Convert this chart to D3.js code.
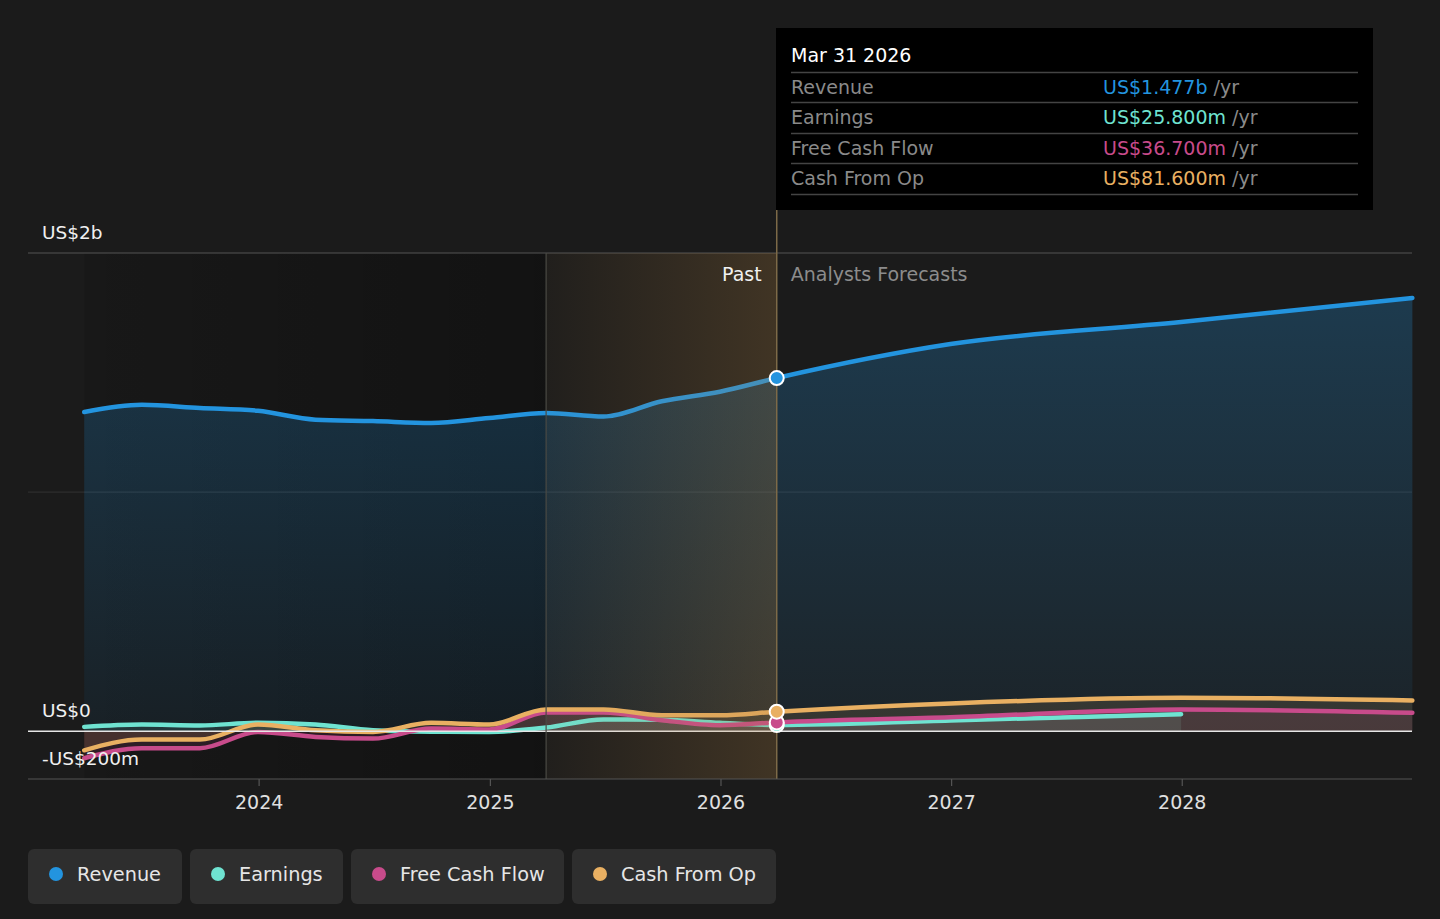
<!DOCTYPE html>
<html>
<head>
<meta charset="utf-8">
<script src="https://cdn.jsdelivr.net/npm/d3@7"></script>
<style>
html,body{margin:0;padding:0;background:#1b1b1b;}
svg{display:block;font-family:"DejaVu Sans",sans-serif;}
</style>
</head>
<body>
<svg id="chart" width="1440" height="919"></svg>
<script>
// ---------- data (values in US$ millions) ----------
const pastDates = ["2023-03-31","2023-06-30","2023-09-30","2023-12-31","2024-03-31","2024-06-30","2024-09-30","2024-12-31","2025-03-31","2025-06-30","2025-09-30","2025-12-31","2026-03-31"];
const revenuePast  = [1335,1365,1352,1340,1303,1297,1289,1310,1331,1316,1380,1420,1477];
const earningsPast = [18,28,24,35,28,4,-2,-3,15,49,48,35,25.8];
const fcfPast      = [-113,-71,-71,-3,-24,-31,11,7,78,78,46,25,36.7];
const cfoPast      = [-80,-35,-35,28,4,-3,35,28,91,91,67,67,81.6];

const forecastDates = ["2026-03-31","2026-12-31","2027-12-31","2028-12-31"];
const revenueFc  = [1477,1619,1711,1812];
const earningsFc = [25.8,45,71];
const fcfFc      = [36.7,58,91,77];
const cfoFc      = [81.6,116,140,128];

const yTickValues = [-200,0,2000];
const yTickLabels = ["-US$200m","US$0","US$2b"];
const xTickYears = [2024,2025,2026,2027,2028];

const seriesNames = ["Revenue","Earnings","Free Cash Flow","Cash From Op"];
const seriesColors = ["#2394df","#6fe3d1","#c84b8b","#e9b062"];
const tooltipDate = "Mar 31 2026";
const tooltipValues = ["US$1.477b","US$25.800m","US$36.700m","US$81.600m"];
const highlightStart = "2025-03-31";
const nowDate = "2026-03-31";

// ---------- setup ----------
const parse = d3.utcParse("%Y-%m-%d");
const svg = d3.select("#chart");
const x = d3.scaleUtc().domain([new Date(Date.UTC(2023,0,1)), new Date(Date.UTC(2029,0,1))]).range([28,1413]);
const y = d3.scaleLinear().domain([-200,2000]).range([779,253]);
const left = 28, right = 1412;

function pts(dates, vals){ return vals.map((v,i)=>({d:parse(dates[i]), v})); }
const series = [
  {past: pts(pastDates,revenuePast),  fc: pts(forecastDates,revenueFc)},
  {past: pts(pastDates,earningsPast), fc: pts(forecastDates,earningsFc)},
  {past: pts(pastDates,fcfPast),      fc: pts(forecastDates,fcfFc)},
  {past: pts(pastDates,cfoPast),      fc: pts(forecastDates,cfoFc)}
];

const defs = svg.append("defs");
const gPast = defs.append("linearGradient").attr("id","pastBg").attr("x1","0").attr("x2","1").attr("y1","0").attr("y2","0");
gPast.append("stop").attr("offset","0").attr("stop-color","#000").attr("stop-opacity",0.12);
gPast.append("stop").attr("offset","1").attr("stop-color","#000").attr("stop-opacity",0.32);

const gHi = defs.append("linearGradient").attr("id","hiBg").attr("x1","0").attr("x2","1").attr("y1","0").attr("y2","0");
gHi.append("stop").attr("offset","0").attr("stop-color","#b08040").attr("stop-opacity",0.04);
gHi.append("stop").attr("offset","1").attr("stop-color","#b08040").attr("stop-opacity",0.25);

const gRev = defs.append("linearGradient").attr("id","revFill").attr("x1","0").attr("x2","0").attr("y1","0").attr("y2","1");
gRev.append("stop").attr("offset","0").attr("stop-color","#2394df").attr("stop-opacity",0.26);
gRev.append("stop").attr("offset","1").attr("stop-color","#2394df").attr("stop-opacity",0.07);

const x0 = x(parse(pastDates[0]));
const xHi = x(parse(highlightStart));
const xNow = x(parse(nowDate));

// darker past background
svg.append("rect").attr("x",x0).attr("y",y(2000)).attr("width",xHi-x0).attr("height",y(-200)-y(2000)).attr("fill","url(#pastBg)");

// grid lines
svg.append("line").attr("x1",left).attr("x2",right).attr("y1",y(2000)).attr("y2",y(2000)).attr("stroke","#555").attr("stroke-width",1);
svg.append("line").attr("x1",left).attr("x2",right).attr("y1",y(1000)).attr("y2",y(1000)).attr("stroke","#333").attr("stroke-width",1);

// areas and lines
const curve = d3.curveMonotoneX;
const area = d3.area().x(d=>x(d.d)).y0(y(0)).y1(d=>y(d.v)).curve(curve);
const line = d3.line().x(d=>x(d.d)).y(d=>y(d.v)).curve(curve);

series.forEach((s,i)=>{
  const all = s.past.concat(s.fc.slice(1));
  svg.append("path").datum(all).attr("d",area)
    .attr("fill", i===0 ? "url(#revFill)" : seriesColors[i])
    .attr("fill-opacity", i===0 ? 1 : 0.13);
});
series.forEach((s,i)=>{
  const all = s.past.concat(s.fc.slice(1));
  svg.append("path").datum(all).attr("d",line)
    .attr("fill","none").attr("stroke",seriesColors[i]).attr("stroke-width",4.5)
    .attr("stroke-linejoin","round").attr("stroke-linecap","round");
});

// zero line
svg.append("line").attr("x1",left).attr("x2",right).attr("y1",y(0)).attr("y2",y(0)).attr("stroke","#e6e6e6").attr("stroke-width",1.5);

// highlight overlay
svg.append("rect").attr("x",xHi).attr("y",y(2000)).attr("width",xNow-xHi).attr("height",y(-200)-y(2000)).attr("fill","url(#hiBg)");
svg.append("line").attr("x1",xHi).attr("x2",xHi).attr("y1",y(2000)).attr("y2",y(-200)).attr("stroke","#4a4a44").attr("stroke-width",1.2);
svg.append("line").attr("x1",xNow).attr("x2",xNow).attr("y1",210).attr("y2",y(-200)).attr("stroke","#7d6a48").attr("stroke-width",1.5);

// x axis
const xAxis = d3.axisBottom(x)
  .tickValues(xTickYears.map(yr=>new Date(Date.UTC(yr,0,1))))
  .tickFormat(d3.utcFormat("%Y")).tickSize(7).tickSizeOuter(0);
const ax = svg.append("g").attr("transform",`translate(0,${y(-200)})`).call(xAxis);
ax.select(".domain").remove();
ax.selectAll(".tick line").attr("stroke","#555").attr("stroke-width",1.2);
ax.selectAll(".tick text").attr("fill","#e0e0e0").attr("font-size",19).attr("font-family","DejaVu Sans").attr("dy","1.05em").attr("y",10);
svg.append("line").attr("x1",left).attr("x2",right).attr("y1",y(-200)).attr("y2",y(-200)).attr("stroke","#555").attr("stroke-width",1.2);

// markers
[1,2,3,0].forEach(i=>{
  const s = series[i];
  const p = s.fc[0];
  svg.append("circle").attr("cx",x(p.d)).attr("cy",y(p.v)).attr("r",7)
    .attr("fill",seriesColors[i]).attr("stroke","#fff").attr("stroke-width",2);
});

// y labels
yTickValues.forEach((v,i)=>{
  svg.append("text").attr("x",42).attr("y",y(v)-14).attr("fill","#f0f0f0").attr("font-size",18.5).text(yTickLabels[i]);
});

// Past / forecast labels
svg.append("text").attr("x",xNow-15).attr("y",y(2000)+28).attr("text-anchor","end").attr("fill","#f0f0f0").attr("font-size",19).text("Past");
svg.append("text").attr("x",xNow+14).attr("y",y(2000)+28).attr("fill","#8c8c8c").attr("font-size",19).text("Analysts Forecasts");

// tooltip
const tt = svg.append("g");
tt.append("rect").attr("x",776).attr("y",28).attr("width",597).attr("height",182).attr("fill","#000");
tt.append("text").attr("x",791).attr("y",62).attr("fill","#fff").attr("font-size",19).text(tooltipDate);
const rowY = [72.5,102.5,133.5,163.5,194.5];
rowY.forEach(ry=>{
  tt.append("line").attr("x1",791).attr("x2",1358).attr("y1",ry).attr("y2",ry).attr("stroke","#444").attr("stroke-width",1.5);
});
seriesNames.forEach((n,i)=>{
  const by = rowY[i] + 21;
  tt.append("text").attr("x",791).attr("y",by).attr("fill","#8a8a8a").attr("font-size",19).text(n);
  const t = tt.append("text").attr("x",1103).attr("y",by).attr("font-size",19);
  t.append("tspan").attr("fill",seriesColors[i]).text(tooltipValues[i]);
  t.append("tspan").attr("fill","#8a8a8a").text(" /yr");
});

// legend
const legendX = [28,190,351,572];
const legendW = [154,153,213,204];
seriesNames.forEach((n,i)=>{
  const g = svg.append("g").attr("transform",`translate(${legendX[i]},849)`);
  g.append("rect").attr("width",legendW[i]).attr("height",55).attr("rx",6).attr("fill","#2e2e2e");
  g.append("circle").attr("cx",28).attr("cy",25).attr("r",7).attr("fill",seriesColors[i]);
  g.append("text").attr("x",49).attr("y",32).attr("fill","#e6e6e6").attr("font-size",19.3).text(n);
});
</script>
</body>
</html>
